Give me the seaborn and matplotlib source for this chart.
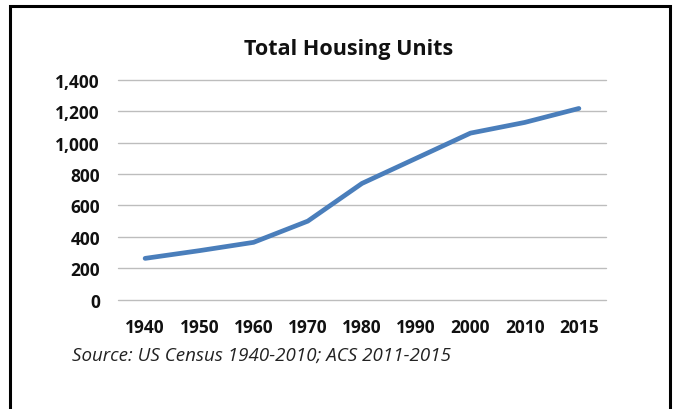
import matplotlib
matplotlib.use("Agg")
import matplotlib.pyplot as plt
import seaborn as sns
import pandas as pd
from matplotlib.patches import Rectangle
from matplotlib.ticker import FuncFormatter

years = ["1940", "1950", "1960", "1970", "1980", "1990", "2000", "2010", "2015"]
units = [263, 312, 365, 500, 740, 900, 1060, 1128, 1217]
y_ticks = [0, 200, 400, 600, 800, 1000, 1200, 1400]

df = pd.DataFrame({"year": years, "units": units})

sns.set_theme(style="white")
plt.rcParams["font.family"] = ["Open Sans", "DejaVu Sans"]

W, H = 679, 410
fig = plt.figure(figsize=(W / 100, H / 100), dpi=100)
ax = fig.add_axes([118 / W, 1 - 300.7 / H, (606 - 118) / W, (300.7 - 80.7) / H])

sns.lineplot(data=df, x="year", y="units", ax=ax, color="#4a7ebb", linewidth=3.4,
             sort=False)

ax.set_ylim(0, 1400)
ax.set_xlim(-0.5, len(years) - 0.5)
ax.set_yticks(y_ticks)
ax.yaxis.set_major_formatter(FuncFormatter(lambda v, p: f"{int(v):,}"))
ax.yaxis.grid(True, color="#bdbdbd", linewidth=1.0)
ax.set_axisbelow(True)
for gl in ax.get_ygridlines():
    gl.set_clip_on(False)
for s in ["top", "right", "bottom", "left"]:
    ax.spines[s].set_visible(False)
ax.set_xlabel("")
ax.set_ylabel("")
ax.tick_params(axis="y", length=0, pad=13, labelsize=12.5)
ax.tick_params(axis="x", length=0, pad=13, labelsize=12.5)
for lbl in ax.get_xticklabels() + ax.get_yticklabels():
    lbl.set_fontweight("bold")
    lbl.set_color("#111111")

fig.text(349 / W, 1 - 50 / H, "Total Housing Units", ha="center", va="center",
         fontsize=15.5, fontweight="bold", color="#111111")
fig.text(72 / W, 1 - 356 / H, "Source: US Census 1940-2010; ACS 2011-2015",
         ha="left", va="center", fontsize=13.5, style="italic", color="#222222")

fig.patches.append(Rectangle((10 / W, -0.05), (670 - 10) / W, 1.05 - 7 / H,
                             transform=fig.transFigure, fill=False,
                             edgecolor="black", linewidth=2.2))

fig.savefig("out.png", dpi=100)
